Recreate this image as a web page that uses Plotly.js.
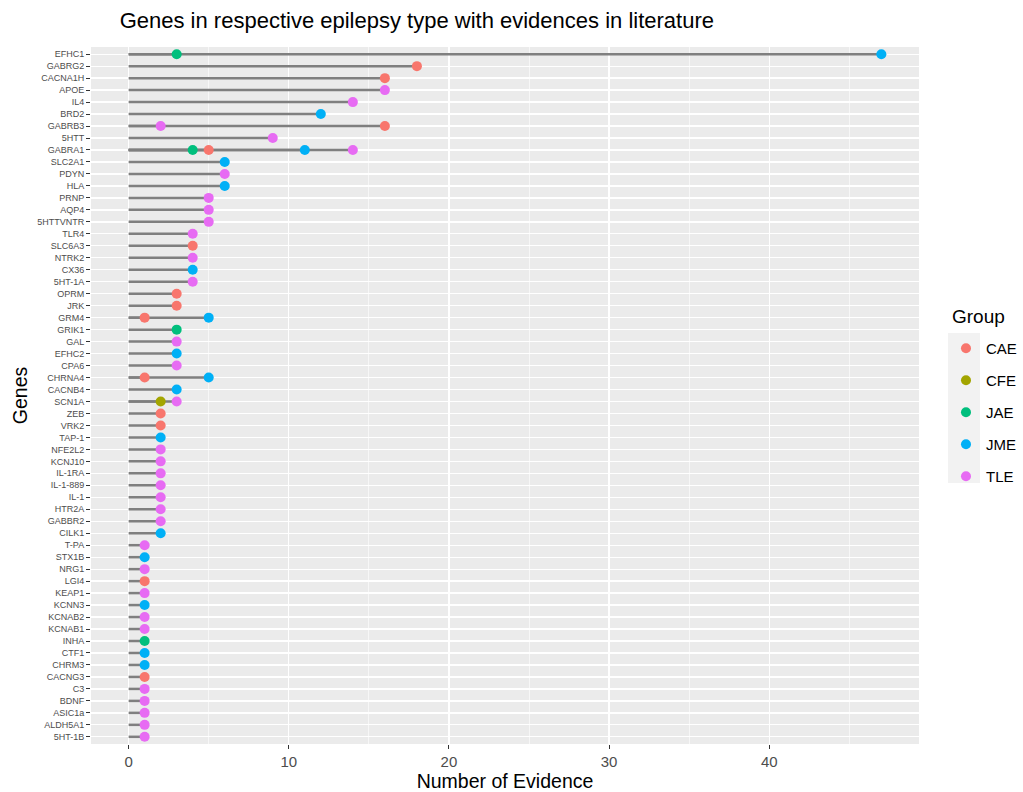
<!DOCTYPE html>
<html>
<head>
<meta charset="utf-8">
<script src="https://cdn.plot.ly/plotly-3.0.1.min.js"></script>
<style>html,body{margin:0;padding:0;background:#fff;}#chart{width:1023px;height:792px;}</style>
</head>
<body>
<div id="chart"></div>
<script>
// Gene order, top to bottom
const geneOrder = ["EFHC1","GABRG2","CACNA1H","APOE","IL4","BRD2","GABRB3","5HTT","GABRA1","SLC2A1",
  "PDYN","HLA","PRNP","AQP4","5HTTVNTR","TLR4","SLC6A3","NTRK2","CX36","5HT-1A",
  "OPRM","JRK","GRM4","GRIK1","GAL","EFHC2","CPA6","CHRNA4","CACNB4","SCN1A",
  "ZEB","VRK2","TAP-1","NFE2L2","KCNJ10","IL-1RA","IL-1-889","IL-1","HTR2A","GABBR2",
  "CILK1","T-PA","STX1B","NRG1","LGI4","KEAP1","KCNN3","KCNAB2","KCNAB1","INHA",
  "CTF1","CHRM3","CACNG3","C3","BDNF","ASIC1a","ALDH5A1","5HT-1B"];

// One entry per observation (gene, group, number of evidence)
const pointGene = ["EFHC1","EFHC1","GABRG2","CACNA1H","APOE","IL4","BRD2","GABRB3","GABRB3","5HTT",
  "GABRA1","GABRA1","GABRA1","GABRA1","SLC2A1","PDYN","HLA","PRNP","AQP4","5HTTVNTR",
  "TLR4","SLC6A3","NTRK2","CX36","5HT-1A","OPRM","JRK","GRM4","GRM4","GRIK1",
  "GAL","EFHC2","CPA6","CHRNA4","CHRNA4","CACNB4","SCN1A","SCN1A","ZEB","VRK2",
  "TAP-1","NFE2L2","KCNJ10","IL-1RA","IL-1-889","IL-1","HTR2A","GABBR2","CILK1","T-PA",
  "STX1B","NRG1","LGI4","KEAP1","KCNN3","KCNAB2","KCNAB1","INHA","CTF1","CHRM3",
  "CACNG3","C3","BDNF","ASIC1a","ALDH5A1","5HT-1B"];
const pointGroup = ["JAE","JME","CAE","CAE","TLE","TLE","JME","TLE","CAE","TLE",
  "JAE","CAE","JME","TLE","JME","TLE","JME","TLE","TLE","TLE",
  "TLE","CAE","TLE","JME","TLE","CAE","CAE","CAE","JME","JAE",
  "TLE","JME","TLE","CAE","JME","JME","CFE","TLE","CAE","CAE",
  "JME","TLE","TLE","TLE","TLE","TLE","TLE","TLE","JME","TLE",
  "JME","TLE","CAE","TLE","JME","TLE","TLE","JAE","JME","JME",
  "CAE","TLE","TLE","TLE","TLE","TLE"];
const pointCount = [3,47,18,16,16,14,12,2,16,9,
  4,5,11,14,6,6,6,5,5,5,
  4,4,4,4,4,3,3,1,5,3,
  3,3,3,1,5,3,2,3,2,2,
  2,2,2,2,2,2,2,2,2,1,
  1,1,1,1,1,1,1,1,1,1,
  1,1,1,1,1,1];

const groups = ["CAE","CFE","JAE","JME","TLE"];
const groupColors = ["#F8766D","#A3A500","#00BF7D","#00B0F6","#E76BF3"];

// Segments from 0 to each value
const segX = [], segY = [];
for (let i = 0; i < pointGene.length; i++) {
  segX.push(0, pointCount[i], null);
  segY.push(pointGene[i], pointGene[i], null);
}
const traces = [{
  type: "scatter", mode: "lines", x: segX, y: segY,
  line: {color: "#7F7F7F", width: 2.5}, showlegend: false, hoverinfo: "skip"
}];
groups.forEach((g, k) => {
  const xs = [], ys = [];
  for (let i = 0; i < pointGene.length; i++) {
    if (pointGroup[i] === g) { xs.push(pointCount[i]); ys.push(pointGene[i]); }
  }
  traces.push({
    type: "scatter", mode: "markers", name: g, x: xs, y: ys, legendgroup: g,
    marker: {color: groupColors[k], size: 10}
  });
});

const layout = {
  width: 1023, height: 792,
  paper_bgcolor: "#FFFFFF", plot_bgcolor: "#EBEBEB",
  margin: {l: 91, r: 104, t: 47, b: 48, autoexpand: false},
  font: {family: "Liberation Sans, Arial, sans-serif", color: "#000"},
  title: {text: "Genes in respective epilepsy type with evidences in literature",
    font: {size: 22, color: "#000"}, xref: "container", x: 0.117, xanchor: "left",
    yref: "container", y: 0.974, yanchor: "middle"},
  xaxis: {
    range: [-2.35, 49.35], dtick: 10, tick0: 0, showgrid: true, gridcolor: "#FFFFFF", gridwidth: 1.3,
    zeroline: false, showline: false, ticks: "outside", ticklen: 4, tickcolor: "#333333", tickwidth: 1,
    tickfont: {size: 15, color: "#4D4D4D"},
    minor: {dtick: 5, tick0: 0, showgrid: true, gridcolor: "#FFFFFF", gridwidth: 0.6, ticks: ""},
    title: {text: "Number of Evidence", font: {size: 19.5, color: "#000"}, standoff: 6},
    automargin: false
  },
  yaxis: {
    type: "category", categoryorder: "array", categoryarray: geneOrder,
    range: [57.6, -0.6], showgrid: true, gridcolor: "#FFFFFF", gridwidth: 1.3,
    zeroline: false, showline: false, ticks: "outside", ticklen: 4, tickcolor: "#333333", tickwidth: 1,
    tickfont: {size: 9, color: "#4D4D4D"},
    title: {text: "Genes", font: {size: 19.5, color: "#000"}, standoff: 4},
    automargin: false
  },
  legend: {
    x: 1.0326, xanchor: "left", y: 0.591, yanchor: "top",
    bgcolor: "rgba(0,0,0,0)", tracegroupgap: 9.5,
    font: {size: 15, color: "#000"}
  },
  annotations: [{
    text: "Group", xref: "paper", yref: "paper", x: 1.0374, y: 0.614,
    xanchor: "left", yanchor: "middle", showarrow: false,
    font: {size: 19, color: "#000"}
  }],
  shapes: [{
    type: "rect", xref: "paper", yref: "paper", layer: "below",
    x0: 1.035, x1: 1.0737, y0: 0.3745, y1: 0.5897,
    fillcolor: "#F2F2F2", line: {width: 0}
  }]
};

Plotly.newPlot("chart", traces, layout, {displayModeBar: false, staticPlot: true});
</script>
</body>
</html>
